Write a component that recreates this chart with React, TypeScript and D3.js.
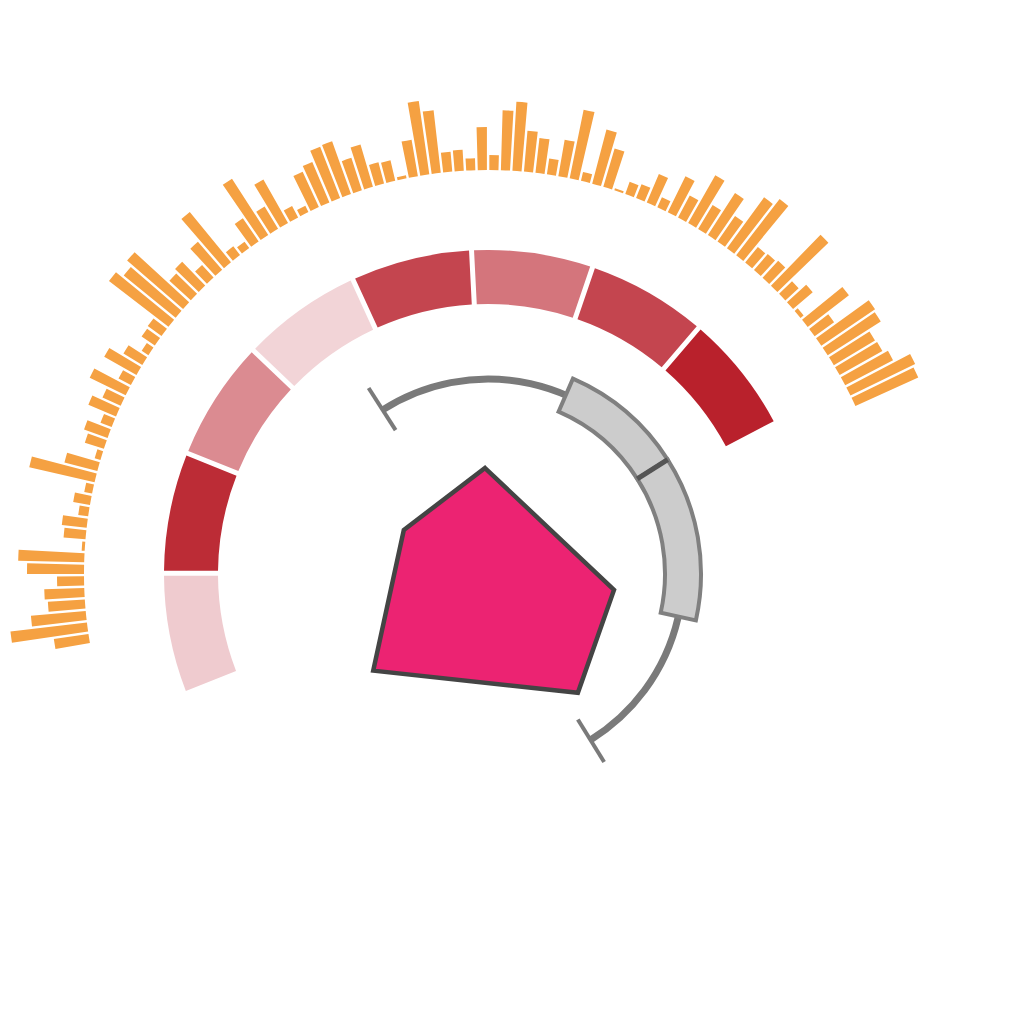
import * as d3 from 'd3';

// outer ring: bar lengths, one per band, in px above the base circle
const barValues = [
  35, 77, 55, 37, 40, 27, 57, 66, 3, 22, 25, 10, 17, 8, 67, 34, 6, 20, 25, 12,
  30, 20, 40, 14, 37, 22, 8, 16, 17, 75, 67, 74, 29, 33, 17, 37, 65, 11, 8, 28,
  67, 26, 50, 13, 7, 39, 44, 55, 56, 34, 44, 22, 21, 3, 37, 74, 63, 20, 21, 12,
  43, 15, 60, 69, 41, 35, 16, 37, 70, 9, 56, 40, 2, 13, 15, 31, 11, 40, 25, 55,
  28, 50, 31, 63, 71, 20, 21, 23, 71, 18, 26, 4, 52, 24, 65, 63, 48, 49, 54, 72,
  69,
];

// middle ring: 8 segments coloured by value
const segmentValues = [6, 93, 41, 1, 79, 53, 79, 99];

// box plot in degrees: min, q1, median, q3, max
const boxAngles = [-32.7, 23.5, 57.5, 102.6, 148.3];

// inner polygon
const shapeAngles = [-1.6, 97.2, 142.9, 229.9, 297.6];
const shapeRadii = [106, 127, 149, 150, 95];

const width = 1024;
const height = 1024;
const cx = 488;
const cy = 574;

const toRad = d3.scaleLinear().domain([0, 360]).range([0, 2 * Math.PI]);

function polar(a: number, r: number): [number, number] {
  return [r * Math.sin(a), -r * Math.cos(a)];
}

export default function App() {
  // orange bars
  const barAngle = d3
    .scaleBand<number>()
    .domain(d3.range(barValues.length))
    .range([toRad(-100), toRad(65.6)]);
  const barRadius = d3.scaleLinear().domain([0, 80]).range([404, 484]);
  const barArc = d3.arc<any>().padAngle(0.006).padRadius(404);

  // red segments
  const segAngle = d3
    .scaleBand<number>()
    .domain(d3.range(segmentValues.length))
    .range([toRad(-111.6), toRad(62.3)]);
  const segColor = d3
    .scaleLinear<string>()
    .domain([0, 100])
    .range(['#f3d6d9', '#b81f2a']);
  const segArc = d3
    .arc<any>()
    .innerRadius(270)
    .outerRadius(324)
    .padAngle(5 / 300)
    .padRadius(300);

  // box plot
  const [minA, q1A, medA, q3A, maxA] = boxAngles.map(toRad);
  const whiskerR = 195;
  const whisker = d3.path();
  whisker.arc(0, 0, whiskerR, minA - Math.PI / 2, maxA - Math.PI / 2);
  const boxArc = d3.arc<any>().innerRadius(177).outerRadius(213);

  const shapeLine = d3
    .lineRadial<number>()
    .angle((_, i) => toRad(shapeAngles[i]))
    .radius((d) => d)
    .curve(d3.curveLinearClosed);

  const cap = (a: number) => {
    const [x1, y1] = polar(a, 171);
    const [x2, y2] = polar(a, 221);
    return { x1, y1, x2, y2 };
  };
  const med1 = polar(medA, 177);
  const med2 = polar(medA, 213);

  return (
    <svg
      width={width}
      height={height}
      style={{ position: 'absolute', left: 0, top: 0, background: '#fff' }}
    >
      <g transform={`translate(${cx},${cy})`}>
        {/* middle ring */}
        {segmentValues.map((v, i) => (
          <path
            key={i}
            d={
              segArc({
                startAngle: segAngle(i)!,
                endAngle: segAngle(i)! + segAngle.bandwidth(),
              }) ?? ''
            }
            fill={segColor(v)}
          />
        ))}

        {/* outer bars */}
        {barValues.map((v, i) => (
          <path
            key={i}
            d={
              barArc({
                innerRadius: 404,
                outerRadius: barRadius(v),
                startAngle: barAngle(i)!,
                endAngle: barAngle(i)! + barAngle.bandwidth(),
              }) ?? ''
            }
            fill='#f5a142'
          />
        ))}

        {/* box plot */}
        <path
          d={whisker.toString()}
          fill='none'
          stroke='#7a7a7a'
          strokeWidth={7}
        />
        <line {...cap(minA)} stroke='#7a7a7a' strokeWidth={4} />
        <line {...cap(maxA)} stroke='#7a7a7a' strokeWidth={4} />
        <path
          d={boxArc({ startAngle: q1A, endAngle: medA }) ?? ''}
          fill='#cccccc'
          stroke='#808080'
          strokeWidth={4}
        />
        <path
          d={boxArc({ startAngle: medA, endAngle: q3A }) ?? ''}
          fill='#cccccc'
          stroke='#808080'
          strokeWidth={4}
        />
        <line
          x1={med1[0]}
          y1={med1[1]}
          x2={med2[0]}
          y2={med2[1]}
          stroke='#555555'
          strokeWidth={5}
        />

        {/* inner polygon */}
        <path
          d={shapeLine(shapeRadii) ?? ''}
          fill='#ec2372'
          stroke='#444444'
          strokeWidth={4.5}
          strokeLinejoin='miter'
        />
      </g>
    </svg>
  );
}
